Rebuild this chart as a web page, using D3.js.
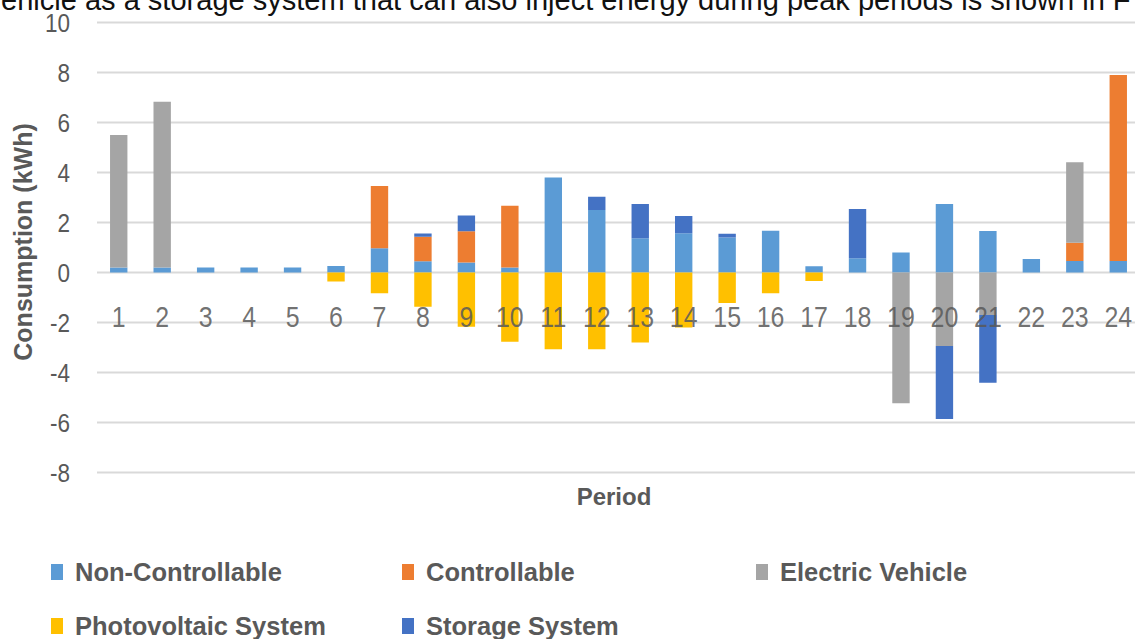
<!DOCTYPE html>
<html>
<head>
<meta charset="utf-8">
<script src="https://cdn.jsdelivr.net/npm/d3@7"></script>
<style>
  html, body { margin: 0; padding: 0; background: #ffffff; }
  svg { display: block; }
</style>
</head>
<body>
<svg id="chart" width="1135" height="639"></svg>
<script>
// Hourly energy balance of a home, stacked by source (kWh)
const periods = ["1","2","3","4","5","6","7","8","9","10","11","12","13","14","15","16","17","18","19","20","21","22","23","24"];
const nonControllable = [0.2, 0.2, 0.2, 0.2, 0.2, 0.26, 0.97, 0.45, 0.4, 0.2, 3.8, 2.5, 1.37, 1.57, 1.4, 1.67, 0.25, 0.57, 0.8, 2.74, 1.66, 0.54, 0.46, 0.46];
const controllable    = [0, 0, 0, 0, 0, 0, 2.49, 0.98, 1.25, 2.47, 0, 0, 0, 0, 0, 0, 0, 0, 0, 0, 0, 0, 0.73, 7.44];
const electricVehicle = [5.3, 6.63, 0, 0, 0, 0, 0, 0, 0, 0, 0, 0, 0, 0, 0, 0, 0, 0, -5.23, -2.94, -1.7, 0, 3.22, 0];
const photovoltaic    = [0, 0, 0, 0, 0, -0.36, -0.83, -1.37, -2.17, -2.77, -3.07, -3.07, -2.8, -2.2, -1.22, -0.83, -0.34, 0, 0, 0, 0, 0, 0, 0];
const storage         = [0, 0, 0, 0, 0, 0, 0, 0.13, 0.63, 0, 0, 0.53, 1.37, 0.69, 0.15, 0, 0, 1.97, 0, -2.92, -2.71, 0, 0, 0];
const yTicks = [-8, -6, -4, -2, 0, 2, 4, 6, 8, 10];

const seriesNames  = ["Non-Controllable", "Controllable", "Electric Vehicle", "Photovoltaic System", "Storage System"];
const seriesValues = [nonControllable, controllable, electricVehicle, photovoltaic, storage];
const seriesColors = ["#5B9BD5", "#ED7D31", "#A5A5A5", "#FFC000", "#4472C4"];

const rows = periods.map((p, i) => {
  const r = { period: p };
  seriesNames.forEach((n, k) => { r[n] = seriesValues[k][i]; });
  return r;
});

const svg = d3.select("#chart");
const W = 1135, H = 639;
const plot = { left: 97, right: 1140, top: 22.5, bottom: 472.5 };

const x = d3.scaleBand().domain(periods).range([plot.left, plot.right]).paddingInner(0.6).paddingOuter(0.3);
const y = d3.scaleLinear().domain([-8, 10]).range([plot.bottom, plot.top]);
const color = d3.scaleOrdinal().domain(seriesNames).range(seriesColors);

const gray = "#595959";
const sans = "'Liberation Sans', Arial, sans-serif";

// Running text of the page above the figure, sized to span the width
const captionText = "vehicle as a storage system that can also inject energy during peak periods is shown in F";
const caption = svg.append("text")
  .attr("y", 10)
  .attr("font-family", sans)
  .attr("font-size", 23)
  .attr("fill", "#111")
  .text(captionText);
const fullW = caption.node().getComputedTextLength();
const vProbe = svg.append("text").attr("font-family", sans).attr("font-size", 23).text("v");
const vW = vProbe.node().getComputedTextLength();
vProbe.remove();
const capSize = 23 * 1130 / (fullW - vW);
caption.attr("font-size", capSize).attr("x", -vW * capSize / 23 + 1);

// Horizontal gridlines
svg.append("g")
  .selectAll("line")
  .data(yTicks)
  .join("line")
  .attr("x1", plot.left).attr("x2", W)
  .attr("y1", d => y(d)).attr("y2", d => y(d))
  .attr("stroke", "#D9D9D9")
  .attr("stroke-width", 2);

// Y axis tick labels (plain hyphen for negatives)
const yAxis = d3.axisLeft(y).tickValues(yTicks).tickSize(0).tickPadding(0)
  .tickFormat(d => (d < 0 ? "-" + Math.abs(d) : String(d)));
const gy = svg.append("g").attr("transform", "translate(70,0)").call(yAxis);
gy.select(".domain").remove();
gy.selectAll("text")
  .attr("font-family", sans)
  .attr("font-size", 25)
  .attr("fill", gray)
  .attr("dy", "0.36em")
  .attr("transform", "scale(0.9,1)");

// Stacked bars (diverging: positive parts go up, negative parts go down)
const stacked = d3.stack().keys(seriesNames).offset(d3.stackOffsetDiverging)(rows);
svg.append("g")
  .selectAll("g")
  .data(stacked)
  .join("g")
  .attr("fill", d => color(d.key))
  .selectAll("rect")
  .data(d => d.filter(s => s[1] - s[0] !== 0))
  .join("rect")
  .attr("x", d => x(d.data.period))
  .attr("width", x.bandwidth())
  .attr("y", d => y(Math.max(d[0], d[1])))
  .attr("height", d => Math.abs(y(d[0]) - y(d[1])));

// X axis category labels placed beside the zero line
const xAxis = d3.axisBottom(x).tickSize(0).tickPadding(0);
const gx = svg.append("g").attr("transform", `translate(0,${y(0)})`).call(xAxis);
gx.select(".domain").remove();
gx.selectAll("text")
  .attr("font-family", sans)
  .attr("font-size", 29)
  .attr("fill", gray)
  .attr("fill-opacity", 0.85)
  .attr("dy", null)
  .attr("y", 55)
  .attr("transform", "scale(0.86,1)");

// Axis titles
svg.append("text")
  .attr("transform", "translate(32,242) rotate(-90)")
  .attr("text-anchor", "middle")
  .attr("font-family", sans)
  .attr("font-weight", "bold")
  .attr("font-size", 25)
  .attr("fill", gray)
  .text("Consumption (kWh)");

svg.append("text")
  .attr("x", 614)
  .attr("y", 505)
  .attr("text-anchor", "middle")
  .attr("font-family", sans)
  .attr("font-weight", "bold")
  .attr("font-size", 24)
  .attr("fill", gray)
  .text("Period");

// Legend in two rows
const legendPos = [
  { col: 0, row: 0 }, { col: 1, row: 0 }, { col: 2, row: 0 },
  { col: 0, row: 1 }, { col: 1, row: 1 }
];
const colX = [51, 402, 756];
const rowY = [572, 626];
const legend = svg.append("g")
  .selectAll("g")
  .data(seriesNames)
  .join("g")
  .attr("transform", (d, i) => `translate(${colX[legendPos[i].col]},${rowY[legendPos[i].row]})`);
legend.append("rect")
  .attr("x", 0).attr("y", -8)
  .attr("width", 12).attr("height", 16)
  .attr("fill", d => color(d));
legend.append("text")
  .attr("x", 24)
  .attr("dy", "0.36em")
  .attr("font-family", sans)
  .attr("font-weight", "bold")
  .attr("font-size", 25.5)
  .attr("fill", gray)
  .text(d => d);
</script>
</body>
</html>
